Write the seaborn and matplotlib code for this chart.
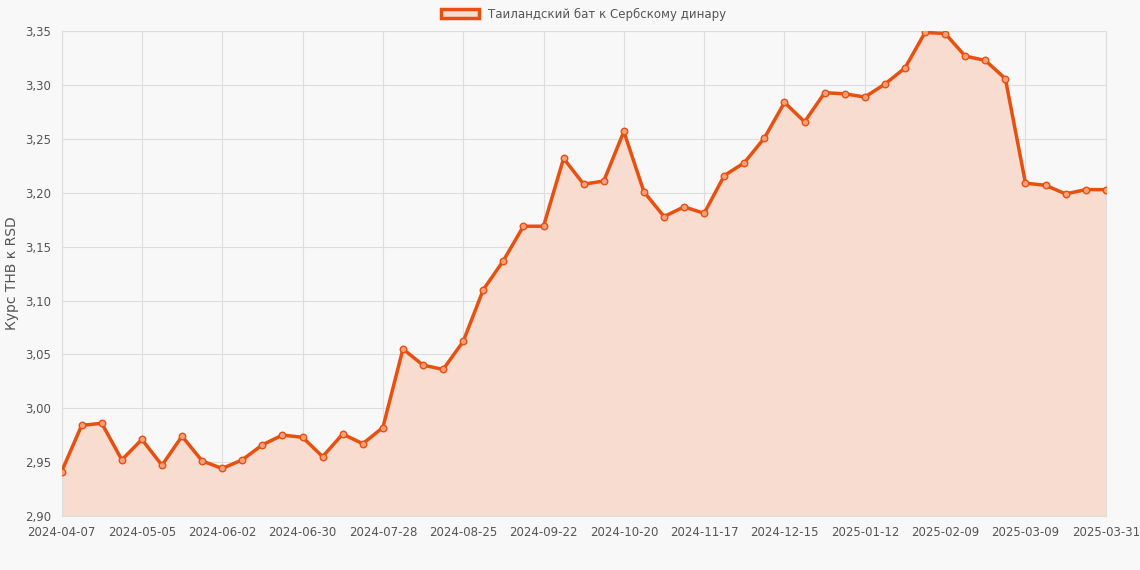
import matplotlib
matplotlib.use("Agg")
import matplotlib.pyplot as plt
import seaborn as sns
import numpy as np

values = [2.941,2.984,2.986,2.952,2.971,2.947,2.974,2.951,2.944,2.952,2.966,2.975,2.973,2.955,
          2.976,2.967,2.982,3.055,3.040,3.036,3.062,3.110,3.137,3.169,3.169,3.232,3.208,3.211,
          3.257,3.201,3.178,3.187,3.181,3.216,3.228,3.251,3.284,3.266,3.293,3.292,3.289,3.301,
          3.316,3.349,3.348,3.327,3.323,3.306,3.209,3.207,3.199,3.203,3.203]
tick_pos = [0,4,8,12,16,20,24,28,32,36,40,44,48,52]
tick_labels = ["2024-04-07","2024-05-05","2024-06-02","2024-06-30","2024-07-28","2024-08-25",
               "2024-09-22","2024-10-20","2024-11-17","2024-12-15","2025-01-12","2025-02-09",
               "2025-03-09","2025-03-31"]
series_name = "Таиландский бат к Сербскому динару"

sns.set_style("whitegrid")
plt.rcParams['font.family'] = ['DejaVu Sans']
fig = plt.figure(figsize=(11.4, 5.7), dpi=100)
fig.patch.set_facecolor("#f8f8f8")
ax = fig.add_axes([0.054, 0.095, 0.916, 0.85])
ax.set_facecolor("#f8f8f8")
x = np.arange(len(values))
c = "#e8500f"
ax.fill_between(x, 2.90, values, color="#f8dccf", alpha=1.0, zorder=1)
sns.lineplot(x=x, y=values, ax=ax, color=c, lw=2.5, zorder=3)
ax.scatter(x, values, s=22, facecolor="#f4a07c", edgecolor=c, linewidth=1, zorder=4)
ax.set_xlim(0, len(values)-1)
ax.set_ylim(2.90, 3.35)
ax.set_yticks(np.arange(2.90, 3.351, 0.05))
ax.set_yticklabels([f"{v:.2f}".replace(".", ",") for v in np.arange(2.90, 3.351, 0.05)])
ax.set_xticks(tick_pos)
ax.set_xticklabels(tick_labels)
ax.tick_params(labelsize=8.5, colors="#555555", length=4)
ax.grid(color="#dddddd", lw=0.8)
for s in ax.spines.values():
    s.set_color("#dddddd")
ax.set_ylabel("Курс THB к RSD", fontsize=10, color="#555555")
from matplotlib.patches import Patch
ax.legend(handles=[Patch(facecolor="#f8dccf", edgecolor=c, lw=2.5, label=series_name)],
          loc="lower center", bbox_to_anchor=(0.5, 1.0), frameon=False, fontsize=8.5,
          handlelength=3.2, labelcolor="#555555")
fig.savefig("out.png", dpi=100, facecolor=fig.get_facecolor())
